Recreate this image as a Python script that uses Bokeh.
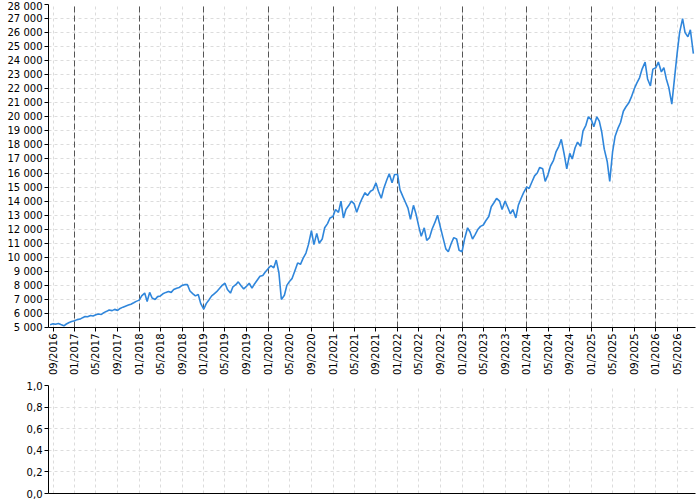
import math
import pandas as pd
from bokeh.plotting import figure
from bokeh.layouts import column
from bokeh.models import (MonthsTicker, DatetimeTickFormatter, SingleIntervalTicker, FixedTicker,
                          CustomJSTickFormatter, Grid, Range1d, ColumnDataSource)
from bokeh.embed import file_html
from bokeh.resources import INLINE

# semi-monthly closing values (1st and 15th of each month)
v2016 = [5200, 5260, 5230, 5290, 5210, 5120, 5250, 5360, 5420]
v2017 = [5480, 5560, 5600, 5700, 5780, 5760, 5850, 5820, 5900, 5960, 5930, 6060,
         6150, 6240, 6200, 6290, 6220, 6360, 6450, 6520, 6600, 6660, 6760, 6860]
v2018 = [6950, 7250, 7450, 6850, 7500, 7100, 7000, 7200, 7250, 7400, 7500, 7560,
         7500, 7700, 7800, 7850, 8000, 8050, 8050, 7600, 7400, 7250, 7350, 6700]
v2019 = [6300, 6700, 7000, 7250, 7400, 7550, 7800, 8000, 8150, 7700, 7450, 7900,
         8050, 8250, 7950, 7750, 7950, 8150, 7800, 8100, 8400, 8650, 8700, 8950]
v2020 = [9200, 9400, 9250, 9800, 8900, 7000, 7300, 8000, 8300, 8500, 9100, 9600,
         9500, 9900, 10300, 10900, 11900, 10900, 11700, 11000, 11300, 12100, 12400, 12800]
v2021 = [12900, 13400, 13200, 14000, 12800, 13400, 13700, 14000, 13800, 13200, 13800, 14200,
         14600, 14400, 14700, 14800, 15300, 14700, 14200, 14900, 15500, 15950, 15300, 15900]
v2022 = [15900, 14800, 14300, 13900, 13500, 12700, 13700, 13100, 12200, 11500, 12100, 11200,
         11400, 12000, 12500, 13000, 12100, 11400, 10600, 10400, 11000, 11400, 11300, 10500]
v2023 = [10400, 11300, 12100, 11800, 11300, 11600, 12000, 12200, 12300, 12600, 12900, 13600,
         13900, 14200, 14000, 13400, 14000, 13600, 13100, 13400, 12800, 13700, 14200, 14600]
v2024 = [15000, 14900, 15400, 15800, 16000, 16400, 16300, 15400, 15900, 16500, 16900, 17500,
         17900, 18400, 17300, 16300, 17400, 17000, 17800, 18200, 17900, 19000, 19400, 20000]
v2025 = [19800, 19300, 20000, 19700, 18900, 17700, 16800, 15400, 17500, 18600, 19200, 19600,
         20400, 20700, 21000, 21400, 22000, 22400, 22800, 23400, 23900, 22700, 22200, 23400]
v2026 = [23500, 23900, 23200, 23500, 22700, 22100, 20900, 22600, 24500, 26000, 27000, 26000,
         25700, 26200, 24500]

first_date = "2016-08-15"
last_date = "2026-08-01"
view_start = "2016-08-06"
view_end = "2026-08-13"

values = v2016 + v2017 + v2018 + v2019 + v2020 + v2021 + v2022 + v2023 + v2024 + v2025 + v2026
dates = pd.date_range(first_date, last_date, freq="SMS")
n = min(len(dates), len(values))
src = ColumnDataSource(data=dict(date=dates[:n], value=values[:n]))

FONT = "DejaVu Sans"
LIGHT = "#dcdcdc"
x_range = Range1d(pd.Timestamp(view_start), pd.Timestamp(view_end))

p1 = figure(width=700, height=379, x_axis_type="datetime", x_range=x_range,
            y_range=Range1d(5000, 28000), output_backend="svg", toolbar_location=None,
            min_border_left=48, min_border_right=5, min_border_top=4, min_border_bottom=52,
            outline_line_color=None)
p1.line("date", "value", source=src, line_color="#2f86db", line_width=1.6)

p1.xaxis.ticker = MonthsTicker(months=[0, 4, 8])
p1.xaxis.formatter = DatetimeTickFormatter(days="%m/%Y", months="%m/%Y", years="%m/%Y")
p1.xaxis.major_label_orientation = math.pi / 2
p1.yaxis.ticker = SingleIntervalTicker(interval=1000)
p1.yaxis.formatter = CustomJSTickFormatter(
    code="return String(Math.round(tick)).replace(/\\B(?=(\\d{3})+(?!\\d))/g, ' ');")

for ax in (p1.xaxis[0], p1.yaxis[0]):
    ax.major_tick_out = 4
    ax.major_tick_in = 0
    ax.minor_tick_out = 0
    ax.minor_tick_in = 0
    ax.major_label_standoff = 2
    ax.major_label_text_font = FONT
    ax.major_label_text_font_size = "10px"
    ax.major_label_text_color = "black"
    ax.axis_line_color = "black"
    ax.major_tick_line_color = "black"

for g in (p1.xgrid[0], p1.ygrid[0]):
    g.grid_line_color = LIGHT
    g.grid_line_dash = "3 3"

p1.add_layout(Grid(dimension=0, ticker=MonthsTicker(months=[0]),
                   grid_line_color="#555555", grid_line_dash="6 3", grid_line_width=1))

p2 = figure(width=700, height=120, x_axis_type="datetime", x_range=x_range,
            y_range=Range1d(0, 1), output_backend="svg", toolbar_location=None,
            min_border_left=48, min_border_right=5, min_border_top=6, min_border_bottom=6,
            outline_line_color=None)
p2.xaxis.ticker = FixedTicker(ticks=[])
p2.xaxis.major_tick_out = 0
p2.xaxis.major_tick_in = 0
p2.xaxis.minor_tick_out = 0
p2.xaxis.minor_tick_in = 0
p2.xaxis.major_label_standoff = 0
p2.xaxis.axis_line_color = "black"
p2.xgrid[0].ticker = MonthsTicker(months=[0, 4, 8])
p2.yaxis.ticker = SingleIntervalTicker(interval=0.2)
p2.yaxis.formatter = CustomJSTickFormatter(code="return tick.toFixed(1).split('.').join(',');")
ax = p2.yaxis[0]
ax.major_tick_out = 4
ax.major_tick_in = 0
ax.minor_tick_out = 0
ax.minor_tick_in = 0
ax.major_label_standoff = 2
ax.major_label_text_font = FONT
ax.major_label_text_font_size = "10px"
ax.major_label_text_color = "black"
ax.axis_line_color = "black"
ax.major_tick_line_color = "black"
for g in (p2.xgrid[0], p2.ygrid[0]):
    g.grid_line_color = LIGHT
    g.grid_line_dash = "3 3"

layout = column(p1, p2, spacing=0)
open("out.html", "w").write(file_html(layout, INLINE))
